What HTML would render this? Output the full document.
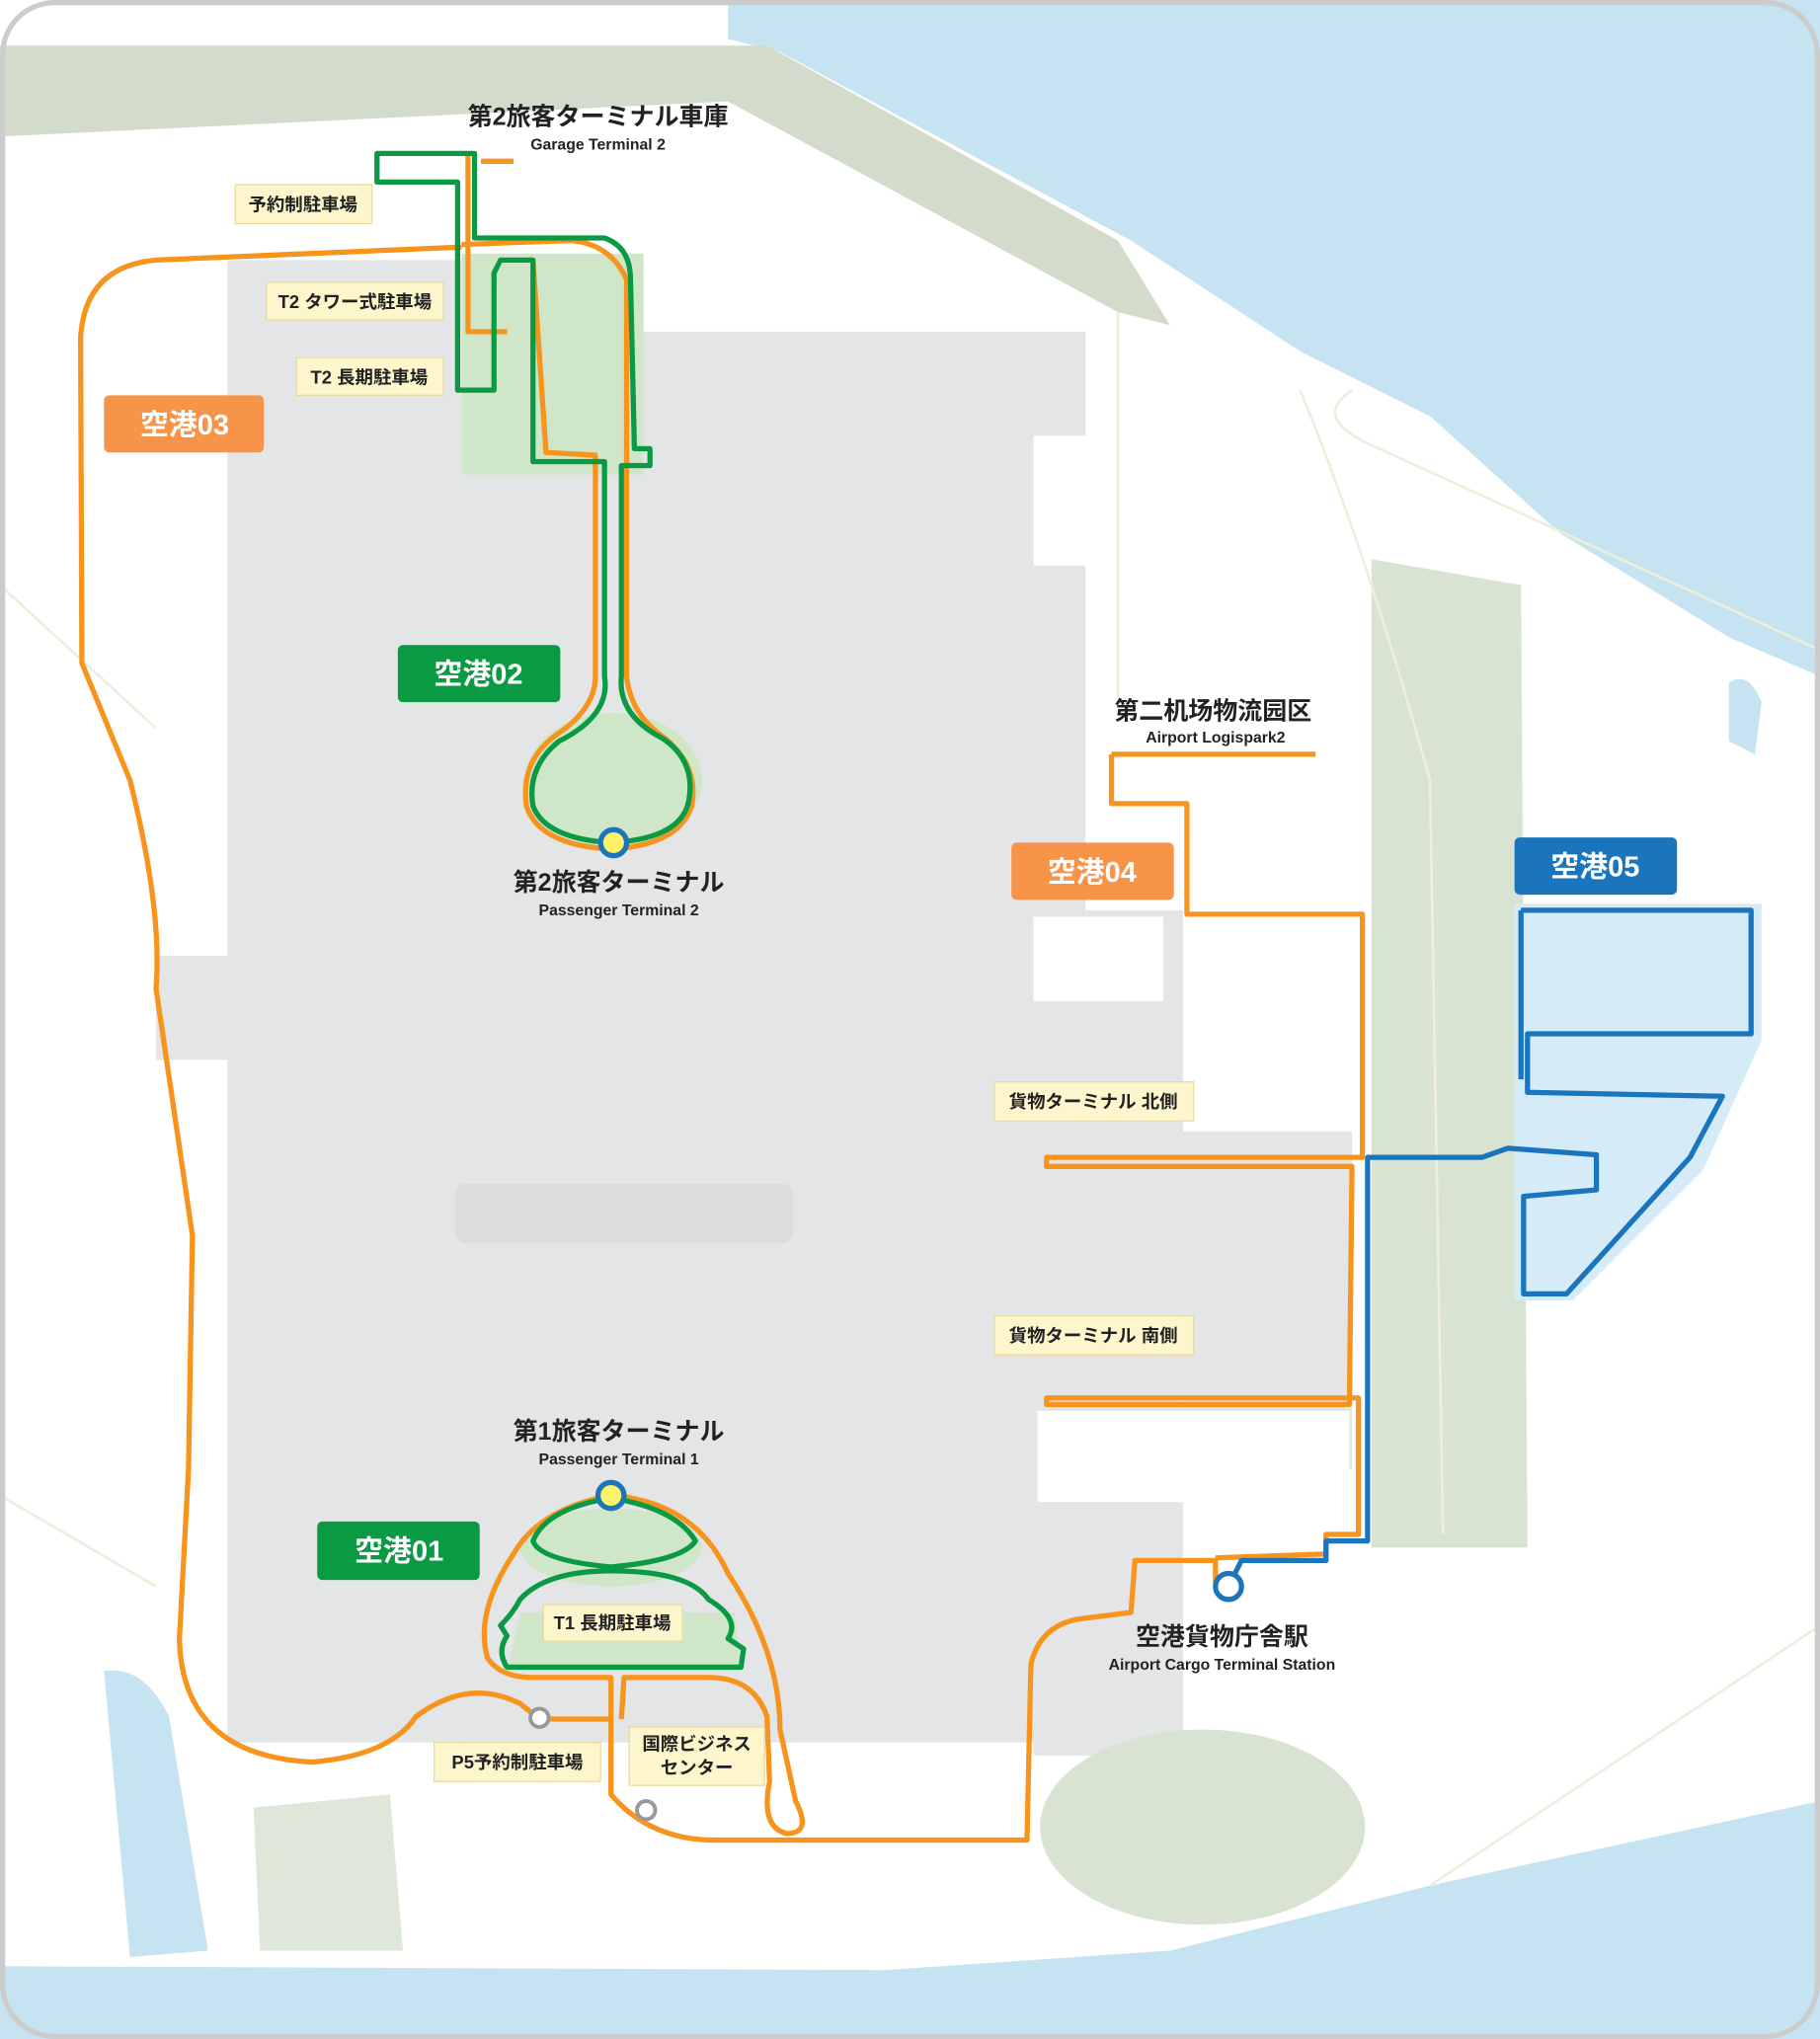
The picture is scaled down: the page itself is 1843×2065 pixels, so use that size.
<!DOCTYPE html>
<html><head><meta charset="utf-8"><style>
html,body{margin:0;padding:0;background:#fff;}
svg{display:block;}
text{font-family:"Liberation Sans","Noto Sans CJK JP",sans-serif;}
.t{font-weight:bold;font-size:19px;fill:#222;text-anchor:middle;}
.s{font-size:12px;fill:#222;text-anchor:middle;font-weight:bold;}
.b{font-weight:bold;font-size:22px;fill:#fff;text-anchor:middle;}
.c{font-size:14px;fill:#222;text-anchor:middle;font-weight:bold;}
.o{fill:none;stroke:#f7941d;stroke-width:4;stroke-linejoin:round;}
.g{fill:none;stroke:#0a9a44;stroke-width:4;stroke-linejoin:round;}
.bl{fill:none;stroke:#1b75bc;stroke-width:4;stroke-linejoin:round;}
.cl{fill:#fdf6cc;stroke:#e6dca0;stroke-width:1;}
</style></head><body>
<svg width="1843" height="2065" viewBox="0 0 1400 1568" preserveAspectRatio="none" xmlns="http://www.w3.org/2000/svg">
<rect x="0" y="0" width="1400" height="1568" fill="#fff"/>
<!-- water -->
<polygon points="560,0 1400,0 1400,520 1330,490 1200,410 1100,320 1000,270 870,185 600,40 560,30" fill="#c5e3f0"/>
<polygon points="0,1512 680,1515 900,1500 1100,1450 1400,1385 1400,1568 0,1568" fill="#c5e3f0"/>
<path d="M80,1285 Q110,1280 130,1320 L160,1500 L100,1505 Z" fill="#c5e3f0"/>
<path d="M1330,525 Q1345,515 1355,540 L1350,580 L1330,570 Z" fill="#c5e3f0"/>
<!-- band -->
<polygon points="0,35 590,35 860,185 900,250 860,240 560,78 0,105" fill="#d3dccb"/>
<!-- airport grey -->
<rect x="175" y="200" width="180" height="1140" fill="#e4e5e7"/>
<rect x="355" y="255" width="480" height="1085" fill="#e4e5e7"/>
<rect x="120" y="735" width="60" height="80" fill="#e4e5e7"/>
<rect x="795" y="700" width="115" height="650" fill="#e4e5e7"/>
<rect x="910" y="870" width="130" height="260" fill="#e4e5e7"/>
<rect x="795" y="255" width="40" height="440" fill="#fff" opacity="0.0"/>
<rect x="795" y="335" width="65" height="100" fill="#fff"/>
<rect x="795" y="705" width="100" height="65" fill="#fff"/>
<rect x="798" y="1085" width="240" height="70" fill="#fff"/>
<rect x="350" y="910" width="260" height="46" rx="8" fill="#dcdcde"/>
<!-- green areas -->
<path d="M1055,430 L1170,450 L1175,1190 L1055,1190 Z" fill="#d8e3d2"/>
<ellipse cx="925" cy="1405" rx="125" ry="75" fill="#d8e3d2"/>
<path d="M195,1390 L300,1380 L310,1500 L200,1500 Z" fill="#dfe7da"/>
<rect x="355" y="195" width="140" height="170" fill="#cfe6c8"/>
<ellipse cx="472" cy="600" rx="68" ry="52" fill="#cfe6c8"/>
<path d="M400,1240 L565,1240 L570,1285 L390,1285 Z" fill="#cfe6c8"/>
<ellipse cx="470" cy="1190" rx="70" ry="30" fill="#cfe6c8"/>
<!-- blue zone -->
<path d="M1165,695 L1355,695 L1355,800 L1310,900 L1210,1000 L1165,1000 Z" fill="#d5ecf8"/>
<!-- roads -->
<g fill="none" stroke="#eeeedd" stroke-width="2">
<path d="M860,240 L860,540 M1000,300 Q1050,420 1100,600 L1110,1180"/>
<path d="M1040,300 Q1010,320 1050,340 L1400,500"/>
<path d="M1100,1450 L1400,1250 M0,450 L120,560 M0,1150 L120,1220"/>
</g>
<!-- orange routes -->
<path class="o" d="M355,190 L120,200 Q65,205 62,260 L63,510 L100,600 Q125,700 120,760 L148,950 L145,1130 L138,1260 Q140,1350 240,1355 Q300,1350 320,1320 Q360,1290 400,1310 L415,1322 L470,1322 L470,1380 Q500,1415 550,1415 L790,1415 L793,1280 Q800,1250 830,1245 L870,1240 L873,1200 L935,1200 L935,1218"/>
<path class="o" d="M470,1150 Q535,1155 560,1210 Q600,1270 600,1330 L612,1385 Q625,1410 605,1410 Q585,1405 592,1370 L590,1320 Q580,1290 545,1290 L480,1290 L478,1322"/>
<path class="o" d="M470,1150 Q415,1160 395,1195 Q365,1240 375,1275 Q385,1290 410,1290 L470,1290 L470,1322"/>
<path class="o" d="M855,580 L1012,580 M855,580 L855,618 L913,618 L913,703 L1048,703 L1048,890 L805,890 L805,897 L1040,897 L1038,1080 L805,1080 L805,1075 L1045,1075 L1045,1180 L1020,1180 L1020,1195 L935,1198"/>
<path class="o" d="M370,124 L395,124 M360,120 L360,255 L390,255 M355,188 L440,185 Q470,188 482,215 L482,350 L482,520 Q485,550 512,568 Q538,590 532,620 Q522,650 470,653 Q415,650 405,620 Q400,585 428,565 Q458,545 458,520 L458,350 L420,348 L410,200"/>
<!-- green routes -->
<path class="g" d="M290,118 L365,118 L365,183 L465,183 Q485,190 485,215 L488,345 L500,345 L500,358 L478,358 L478,520 Q475,550 510,568 Q535,585 530,615 Q525,645 470,648 Q420,645 410,620 Q405,590 430,570 Q470,550 465,520 L465,355 L410,355 L410,200 L385,200 L380,210 L380,300 L352,300 L352,140 L290,140 Z"/>
<path class="g" d="M470,1152 Q420,1160 410,1185 Q415,1200 470,1205 Q525,1200 535,1185 Q520,1160 470,1152 Z"/>
<path class="g" d="M400,1230 Q420,1208 470,1208 Q530,1208 545,1230 Q570,1245 560,1260 L572,1268 L570,1282 L390,1282 Q382,1270 390,1258 L385,1250 Q395,1240 400,1230 Z"/>
<!-- blue routes -->
<path class="bl" d="M1170,700 L1347,700 L1347,795 L1175,795 L1175,840 L1325,843 L1300,890 L1205,995 L1172,995 L1172,920 L1228,915 L1228,888 L1160,883 L1140,890 L1052,890 L1052,1185 L1020,1185 L1020,1200 L955,1200 L945,1220 M1170,700 L1170,830"/>
<!-- stations -->
<circle cx="472" cy="648" r="10" fill="#fff26b" stroke="#1b75bc" stroke-width="4"/>
<circle cx="470" cy="1150" r="10" fill="#fff26b" stroke="#1b75bc" stroke-width="4"/>
<circle cx="945" cy="1220" r="10" fill="#fff" stroke="#1b75bc" stroke-width="4"/>
<circle cx="415" cy="1321" r="7" fill="#fff" stroke="#999" stroke-width="3"/>
<circle cx="497" cy="1392" r="7" fill="#fff" stroke="#999" stroke-width="3"/>
<!-- badges -->
<rect x="80" y="304" width="123" height="44" rx="4" fill="#f7944a"/><text class="b" x="142" y="334">空港03</text>
<rect x="306" y="496" width="125" height="44" rx="4" fill="#0a9a44"/><text class="b" x="368" y="526">空港02</text>
<rect x="778" y="648" width="125" height="44" rx="4" fill="#f7944a"/><text class="b" x="840" y="678">空港04</text>
<rect x="1165" y="644" width="125" height="44" rx="4" fill="#1b75bc"/><text class="b" x="1227" y="674">空港05</text>
<rect x="244" y="1170" width="125" height="45" rx="4" fill="#0a9a44"/><text class="b" x="307" y="1200">空港01</text>
<!-- callouts -->
<rect class="cl" x="181" y="142" width="105" height="30"/><text class="c" x="233" y="162">予約制駐車場</text>
<rect class="cl" x="205" y="217" width="136" height="29"/><text class="c" x="273" y="237">T2 タワー式駐車場</text>
<rect class="cl" x="228" y="275" width="113" height="29"/><text class="c" x="284" y="295">T2 長期駐車場</text>
<rect class="cl" x="765" y="832" width="153" height="30"/><text class="c" x="841" y="852">貨物ターミナル 北側</text>
<rect class="cl" x="765" y="1012" width="153" height="30"/><text class="c" x="841" y="1032">貨物ターミナル 南側</text>
<rect class="cl" x="418" y="1234" width="107" height="28"/><text class="c" x="471" y="1253">T1 長期駐車場</text>
<rect class="cl" x="334" y="1340" width="128" height="30"/><text class="c" x="398" y="1360">P5予約制駐車場</text>
<rect class="cl" x="484" y="1328" width="104" height="45"/><text class="c" x="536" y="1346">国際ビジネス</text><text class="c" x="536" y="1364">センター</text>
<!-- titles -->
<text class="t" x="460" y="96">第2旅客ターミナル車庫</text><text class="s" x="460" y="115">Garage Terminal 2</text>
<text class="t" x="933" y="553" style="font-family:'Liberation Sans','Noto Sans CJK SC',sans-serif">第二机场物流园区</text><text class="s" x="935" y="571">Airport Logispark2</text>
<text class="t" x="476" y="685">第2旅客ターミナル</text><text class="s" x="476" y="704">Passenger Terminal 2</text>
<text class="t" x="476" y="1107">第1旅客ターミナル</text><text class="s" x="476" y="1126">Passenger Terminal 1</text>
<text class="t" x="940" y="1265">空港貨物庁舎駅</text><text class="s" x="940" y="1284">Airport Cargo Terminal Station</text>
<rect x="2" y="2" width="1396" height="1564" rx="40" fill="none" stroke="#cccccc" stroke-width="4"/>
</svg>
</body></html>
